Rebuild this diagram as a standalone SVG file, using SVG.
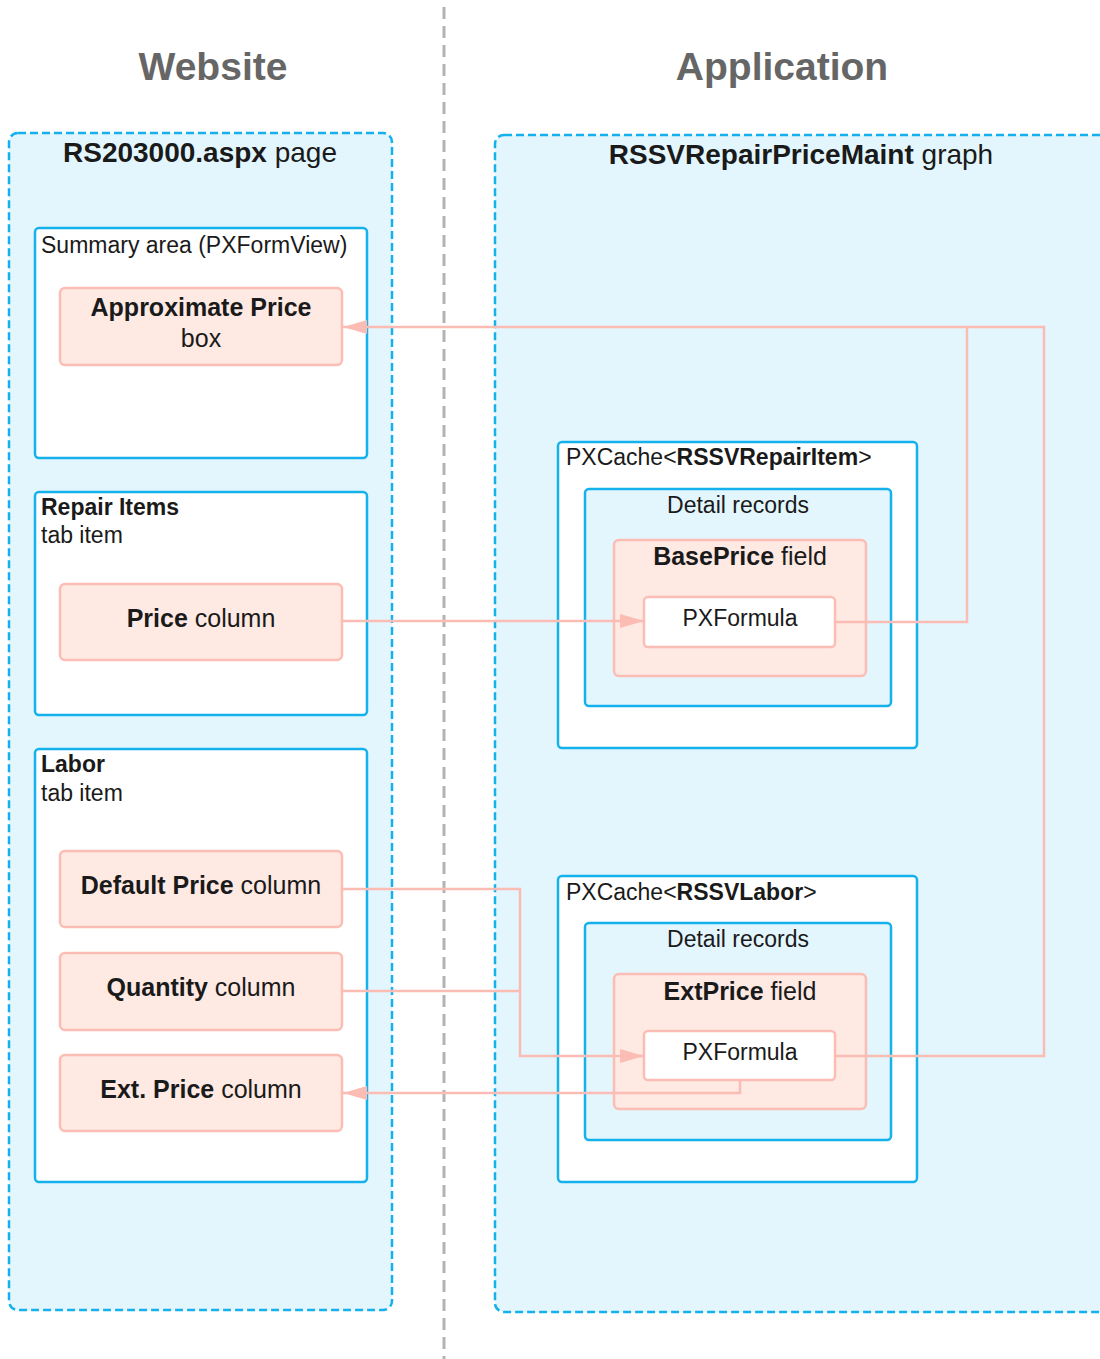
<svg xmlns="http://www.w3.org/2000/svg" width="1100" height="1359" viewBox="0 0 1100 1359">
  <style>
    text { font-family: "Liberation Sans", Arial, sans-serif; fill: #1a1a1a; }
    .title { font-size: 39px; font-weight: bold; fill: #666666; text-anchor: middle; }
    .head { font-size: 28px; text-anchor: middle; }
    .small { font-size: 23px; }
    .mid { font-size: 25px; text-anchor: middle; }
    .ctr { text-anchor: middle; }
    .b { font-weight: bold; }
    .zone { fill: #e3f6fe; stroke: #14b1ec; stroke-width: 2.5; stroke-dasharray: 8 4; }
    .panel { fill: #ffffff; stroke: #14b1ec; stroke-width: 2.5; }
    .records { fill: #e3f6fe; stroke: #14b1ec; stroke-width: 2.5; }
    .item { fill: #fee9e3; stroke: #fbbdb4; stroke-width: 2.5; }
    .formula { fill: #ffffff; stroke: #fbbdb4; stroke-width: 2.5; }
    .link { fill: none; stroke: #fbbcb3; stroke-width: 2.5; }
    .divider { stroke: #b3b3b3; stroke-width: 3; stroke-dasharray: 12 7; }
  </style>
  <defs>
    <marker id="arrow" viewBox="0 0 24 14" refX="24" refY="7" markerWidth="24" markerHeight="14" markerUnits="userSpaceOnUse" orient="auto">
      <path d="M0,0 L24,7 L0,14 Z" fill="#fbbcb3"/>
    </marker>
  </defs>

  <rect width="1100" height="1359" fill="#ffffff"/>

  <!-- column divider and headings -->
  <line class="divider" x1="444" y1="7" x2="444" y2="1359"/>
  <text class="title" x="213" y="80">Website</text>
  <text class="title" x="782" y="80">Application</text>

  <!-- website side -->
  <g id="page">
    <rect class="zone" x="9" y="133" width="383" height="1177" rx="9"/>
    <text class="head" x="200" y="162"><tspan class="b">RS203000.aspx</tspan> page</text>
  </g>

  <g id="summary-area">
    <rect class="panel" x="35" y="228" width="332" height="230" rx="4"/>
    <text class="small" x="41" y="253">Summary area (PXFormView)</text>
  </g>
  <g id="approximate-price">
    <rect class="item" x="60" y="288" width="282" height="77" rx="5"/>
    <text class="mid" x="201" y="316"><tspan class="b">Approximate Price</tspan></text>
    <text class="mid" x="201" y="347">box</text>
  </g>

  <g id="repair-items-tab">
    <rect class="panel" x="35" y="492" width="332" height="223" rx="4"/>
    <text class="small b" x="41" y="515">Repair Items</text>
    <text class="small" x="41" y="543">tab item</text>
  </g>
  <g id="price-column">
    <rect class="item" x="60" y="584" width="282" height="76" rx="5"/>
    <text class="mid" x="201" y="627"><tspan class="b">Price</tspan> column</text>
  </g>

  <g id="labor-tab">
    <rect class="panel" x="35" y="749" width="332" height="433" rx="4"/>
    <text class="small b" x="41" y="772">Labor</text>
    <text class="small" x="41" y="801">tab item</text>
  </g>
  <g id="default-price-column">
    <rect class="item" x="60" y="851" width="282" height="76" rx="5"/>
    <text class="mid" x="201" y="894"><tspan class="b">Default Price</tspan> column</text>
  </g>
  <g id="quantity-column">
    <rect class="item" x="60" y="953" width="282" height="77" rx="5"/>
    <text class="mid" x="201" y="996"><tspan class="b">Quantity</tspan> column</text>
  </g>
  <g id="ext-price-column">
    <rect class="item" x="60" y="1055" width="282" height="76" rx="5"/>
    <text class="mid" x="201" y="1098"><tspan class="b">Ext. Price</tspan> column</text>
  </g>

  <!-- application side -->
  <g id="graph">
    <rect class="zone" x="495" y="135" width="640" height="1177" rx="9"/>
    <text class="head" x="801" y="164"><tspan class="b">RSSVRepairPriceMaint</tspan> graph</text>
  </g>

  <g id="repair-item-cache">
    <rect class="panel" x="558" y="442" width="359" height="306" rx="4"/>
    <text class="small" x="566" y="465">PXCache&lt;<tspan class="b">RSSVRepairItem</tspan>&gt;</text>
  </g>
  <g id="repair-item-records">
    <rect class="records" x="585" y="489" width="306" height="217" rx="4"/>
    <text class="small ctr" x="738" y="513">Detail records</text>
  </g>
  <g id="base-price-field">
    <rect class="item" x="614" y="540" width="252" height="136" rx="5"/>
    <text class="mid" x="740" y="565"><tspan class="b">BasePrice</tspan> field</text>
  </g>
  <g id="base-price-formula">
    <rect class="formula" x="644" y="597" width="191" height="50" rx="4"/>
    <text class="small ctr" x="740" y="626">PXFormula</text>
  </g>

  <g id="labor-cache">
    <rect class="panel" x="558" y="876" width="359" height="306" rx="4"/>
    <text class="small" x="566" y="900">PXCache&lt;<tspan class="b">RSSVLabor</tspan>&gt;</text>
  </g>
  <g id="labor-records">
    <rect class="records" x="585" y="923" width="306" height="217" rx="4"/>
    <text class="small ctr" x="738" y="947">Detail records</text>
  </g>
  <g id="ext-price-field">
    <rect class="item" x="614" y="974" width="252" height="135" rx="5"/>
    <text class="mid" x="740" y="1000"><tspan class="b">ExtPrice</tspan> field</text>
  </g>
  <g id="ext-price-formula">
    <rect class="formula" x="644" y="1031" width="191" height="49" rx="4"/>
    <text class="small ctr" x="740" y="1060">PXFormula</text>
  </g>

  <!-- connectors -->
  <g id="connectors">
    <path class="link" d="M835,622 H967 V327" />
    <path class="link" d="M835,1056 H1044 V327 H343" marker-end="url(#arrow)"/>
    <path class="link" d="M342,621 H644" marker-end="url(#arrow)"/>
    <path class="link" d="M342,889 H520 V1056 H644" marker-end="url(#arrow)"/>
    <path class="link" d="M342,991 H520"/>
    <path class="link" d="M740,1080 V1093 H343" marker-end="url(#arrow)"/>
  </g>
</svg>
